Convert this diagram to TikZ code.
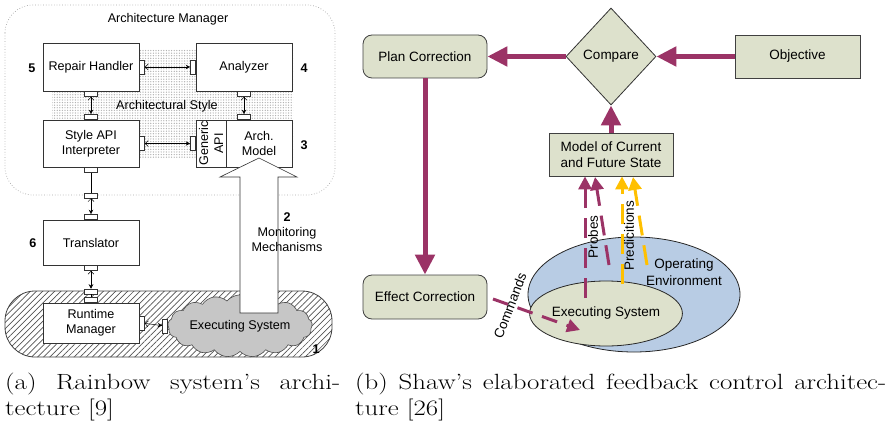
\documentclass[tikz,border=0pt]{standalone}
\usepackage{fontspec}
\usepackage{graphicx}
\newfontfamily\arialf{Liberation Sans}
\usetikzlibrary{shapes.geometric,shapes.symbols,patterns.meta,arrows.meta}
\definecolor{mag}{RGB}{155,51,102}
\definecolor{yel}{RGB}{255,192,0}
\definecolor{boxg}{RGB}{221,225,204}
\definecolor{envb}{RGB}{184,204,228}
\newcommand\lfont{\arialf\fontsize{12.6}{15}\selectfont}
\newcommand\rfont{\arialf\fontsize{13.5}{16.5}\selectfont}
\newcommand\capfont{\fontsize{22}{26}\selectfont}
\begin{document}
\begin{tikzpicture}[x=1pt,y=-1pt,
  lbox/.style={draw=black!80, fill=white, line width=0.6pt, font=\lfont, align=center, inner sep=0pt, minimum width=96pt},
  hport/.style={draw=black!80, fill=white, line width=0.5pt, inner sep=0pt, minimum width=5pt, minimum height=14pt},
  vport/.style={draw=black!80, fill=white, line width=0.5pt, inner sep=0pt, minimum width=13pt, minimum height=5pt},
  parrow/.style={line width=0.5pt, {Straight Barb[length=3pt,width=6pt]}-{Stealth[length=4.5pt,width=4.5pt]}},
  numlbl/.style={font=\arialf\bfseries\fontsize{12.6}{14}\selectfont},
  rbox/.style={draw=black!75, fill=boxg, line width=0.8pt, font=\rfont, align=center, inner sep=0pt, minimum width=124pt, minimum height=43pt},
  bigarrow/.style={mag, line width=5pt, -{Triangle[length=20pt,width=19pt]}},
  dasharr/.style={line width=3pt, dash pattern=on 20pt off 10pt, -{Triangle[length=13pt,width=13pt]}},
  caplbl/.style={anchor=base west, inner sep=0pt}
]
\useasboundingbox (0,0) rectangle (893,425);

% ---------- left panel ----------
\draw[gray!70, dotted, line width=0.7pt, rounded corners=28pt] (5,5) rectangle (335,195);
\fill[pattern={Dots[distance=2.6pt,radius=0.7pt]}, pattern color=gray!60] (52,50) rectangle (293,158);
\node[font=\lfont] (amtitle) at (168,19) {Architecture Manager};
\node[font=\lfont] (style) at (167,106) {Architectural Style};

\draw[black!75, line width=0.8pt, rounded corners=30pt, pattern={Lines[angle=45,distance=4.3pt,line width=0.7pt]}, pattern color=gray!65!black] (5,291) rectangle (332,357);

\node[lbox, minimum height=48pt] (rh) at (91,67) {Repair Handler};
\node[lbox, minimum height=48pt] (an) at (244,67) {Analyzer};
\node[lbox, minimum height=47pt] (sa) at (91,143.5) {Style API\\Interpreter};
\node[lbox, minimum width=66pt, minimum height=47pt] (am) at (259,143.5) {Arch.\\Model};
\node[lbox, rotate=90, minimum width=47pt, minimum height=30pt] (ga) at (211,143.5) {Generic\\API};
\node[lbox, minimum height=45pt] (tr) at (91,242.5) {Translator};
\node[lbox, minimum height=40pt] (rm) at (91,323) {Runtime\\Manager};

\node[cloud, draw=black!70, fill=gray!45, line width=0.6pt, cloud puffs=17, cloud puff arc=100, aspect=2.8, minimum width=130pt, minimum height=46pt, inner sep=0pt, font=\lfont] (cl) at (240,326) {Executing System};

\node[hport, anchor=west] (p1) at (rh.east) {};
\node[hport, anchor=east] (p2) at (an.west) {};
\draw[parrow] (p1) -- (p2);
\node[vport, anchor=north] (p3) at (rh.south) {};
\node[vport, anchor=south] (p4) at (sa.north) {};
\draw[parrow] (p3) -- (p4);
\node[vport, anchor=north] (p5) at (an.south) {};
\node[vport, anchor=south] (p6) at (an.south |- am.north) {};
\draw[parrow] (p5) -- (p6);
\node[hport, anchor=west] (p7) at (sa.east) {};
\node[hport, anchor=east] (p8) at (ga.north) {};
\draw[parrow] (p7) -- (p8);
\node[vport, anchor=north] (p9) at (sa.south) {};
\node[vport] (p10) at (91,195.5) {};
\node[vport, anchor=south] (p11) at (tr.north) {};
\draw[line width=0.6pt] (p9) -- (p10);
\draw[parrow] (p10) -- (p11);
\node[vport, anchor=north] (p12) at (tr.south) {};
\node[vport] (p13) at (91,291.5) {};
\node[vport, anchor=south] (p14) at (rm.north) {};
\draw[parrow] (p12) -- (p13);
\draw[line width=0.6pt] (p13) -- (p14);
\node[hport, anchor=west] (p15) at (rm.east) {};
\node[hport, anchor=east] (p16) at (cl.west) {};
\draw[parrow] (p15) -- (p16);

\filldraw[fill=white, draw=black!80, line width=0.6pt] (240,313) -- (240,177) -- (220,177) -- (259,158) -- (297,177) -- (278,177) -- (278,313) -- cycle;

\node[font=\lfont, align=center] (mon) at (287,232) {{\bfseries 2}\\Monitoring\\Mechanisms};
\node[numlbl] (n5) at (32,68) {5};
\node[numlbl] (n4) at (304,68) {4};
\node[numlbl] (n3) at (304,145) {3};
\node[numlbl] (n6) at (33,243) {6};
\node[numlbl] (n1) at (316,349) {1};

% ---------- right panel ----------
\node[rbox, rounded corners=9pt] (pc) at (425,56.5) {Plan Correction};
\node[diamond, draw=black!80, fill=boxg, line width=0.8pt, font=\rfont, inner sep=0pt, minimum width=90pt, minimum height=97pt] (cmp) at (611,56.5) {Compare};
\node[rbox, minimum width=125pt] (obj) at (797.5,56.5) {Objective};
\node[rbox] (mod) at (611,154.5) {Model of Current\\and Future State};
\node[rbox, rounded corners=9pt, minimum height=44pt] (ec) at (425,297) {Effect Correction};

\node[ellipse, draw=black!85, fill=envb, line width=0.8pt, minimum width=212pt, minimum height=115pt] (env) at (634,294.5) {};
\node[ellipse, draw=black!85, fill=boxg, line width=0.8pt, minimum width=130pt, minimum height=65pt, inner sep=0pt, font=\rfont] (es) at (606,313.5) {Executing System};
\node[font=\rfont, align=center] (oe) at (684,272) {Operating\\Environment};

\draw[bigarrow] (obj) -- (cmp);
\draw[bigarrow] (cmp) -- (pc);
\draw[bigarrow] (mod) -- (cmp);
\draw[bigarrow] (pc) -- (ec);

\coordinate (m1s) at (585,298);
\coordinate (m2s) at (609,265);
\coordinate (m2e) at (595,177);
\coordinate (y1s) at (622,284);
\coordinate (y2s) at (647,265);
\coordinate (y2e) at (633,177);
\draw[dasharr, mag] (m1s) -- (m1s |- mod.south);
\draw[dasharr, mag] (m2s) -- (m2e);
\draw[dasharr, yel] (y1s) -- (y1s |- mod.south);
\draw[dasharr, yel] (y2s) -- (y2e);

\node[font=\rfont, rotate=90] (probes) at (593,237) {Probes};
\node[font=\rfont, rotate=90] (pred) at (629,236) {Predicitions};

\coordinate (cmdS) at (493,299);
\coordinate (cmdE) at (580,330);
\draw[dasharr, mag, dash pattern=on 16pt off 10pt] (cmdS) -- (cmdE);
\node[font=\rfont, rotate=69] (cmd) at (510,306) {Commands};

% ---------- captions ----------
\node[caplbl] (capa1) at (5,389) {\scalebox{1.22}[1]{\capfont\makebox[274.6pt][s]{(a) Rainbow system's archi-}}};
\node[caplbl] (capa2) at (5,415) {\scalebox{1.22}[1]{\capfont tecture [9]}};
\node[caplbl] (capb1) at (355,389) {\scalebox{1.22}[1]{\capfont\makebox[435.2pt][s]{(b) Shaw's elaborated feedback control architec-}}};
\node[caplbl] (capb2) at (355,415) {\scalebox{1.22}[1]{\capfont ture [26]}};
\end{tikzpicture}
\end{document}
